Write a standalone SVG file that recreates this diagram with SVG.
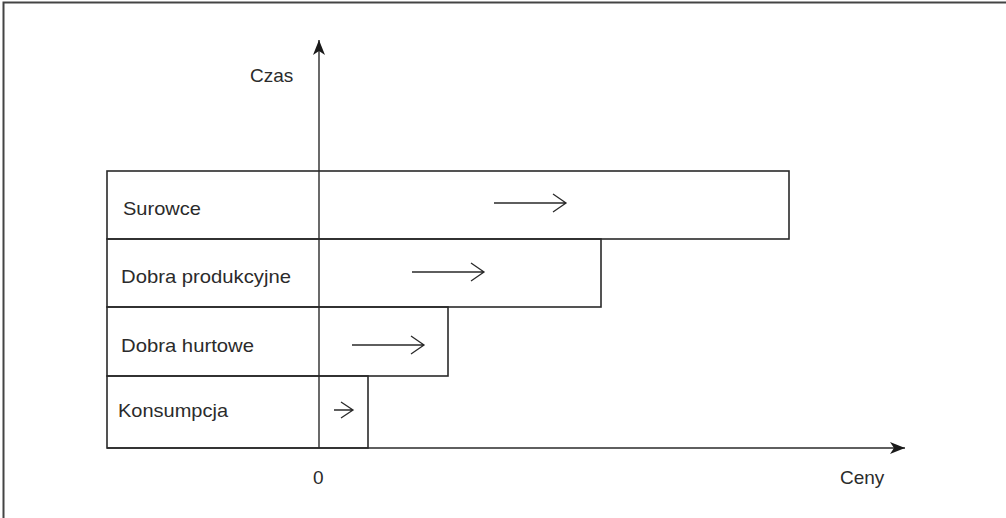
<svg xmlns="http://www.w3.org/2000/svg" width="1006" height="518" viewBox="0 0 1006 518">
  <style>
    .frame { fill: none; stroke: #444; stroke-width: 2; }
    .bar { fill: none; stroke: #2a2a2a; stroke-width: 1.6; }
    .axis { fill: none; stroke: #2a2a2a; stroke-width: 1.4; }
    .move { fill: none; stroke: #2a2a2a; stroke-width: 1.3; }
    .lbl { font-family: "Liberation Sans", Arial, sans-serif; font-size: 19px; fill: #2b2b2b; }
  </style>
  <defs>
    <marker id="axisHead" markerWidth="18" markerHeight="14" refX="15" refY="6" orient="auto" markerUnits="userSpaceOnUse">
      <path d="M0,0 L15,6 L0,12 L4,6 Z" fill="#1a1a1a"/>
    </marker>
  </defs>
  <rect width="1006" height="518" fill="#fff"/>
  <!-- page frame: top and left edges only -->
  <path class="frame" d="M3.5,518 V2.5 H1006"/>

  <g id="surowce">
    <rect class="bar" x="107" y="171" width="682" height="68"/>
    <text class="lbl" x="123" y="215" textLength="78" lengthAdjust="spacingAndGlyphs">Surowce</text>
    <path class="move" d="M494,203 H566 M553,194 L566,203 L553,212"/>
  </g>
  <g id="dobra-produkcyjne">
    <rect class="bar" x="107" y="239" width="494" height="68"/>
    <text class="lbl" x="121" y="283" textLength="170" lengthAdjust="spacingAndGlyphs">Dobra produkcyjne</text>
    <path class="move" d="M412,272 H484 M471,263 L484,272 L471,281"/>
  </g>
  <g id="dobra-hurtowe">
    <rect class="bar" x="107" y="307" width="341" height="69"/>
    <text class="lbl" x="121" y="352" textLength="133" lengthAdjust="spacingAndGlyphs">Dobra hurtowe</text>
    <path class="move" d="M352,345 H424 M411,336 L424,345 L411,354"/>
  </g>
  <g id="konsumpcja">
    <rect class="bar" x="107" y="376" width="261" height="72"/>
    <text class="lbl" x="118" y="417" textLength="110" lengthAdjust="spacingAndGlyphs">Konsumpcja</text>
    <path class="move" d="M334,410 H353 M341,402 L353,410 L341,418"/>
  </g>

  <g id="axes">
    <path class="axis" d="M319,448 V40" marker-end="url(#axisHead)"/>
    <path class="axis" d="M107,448 H905" marker-end="url(#axisHead)"/>
    <text class="lbl" x="250" y="82">Czas</text>
    <text class="lbl" x="313" y="484">0</text>
    <text class="lbl" x="840" y="484">Ceny</text>
  </g>
</svg>
